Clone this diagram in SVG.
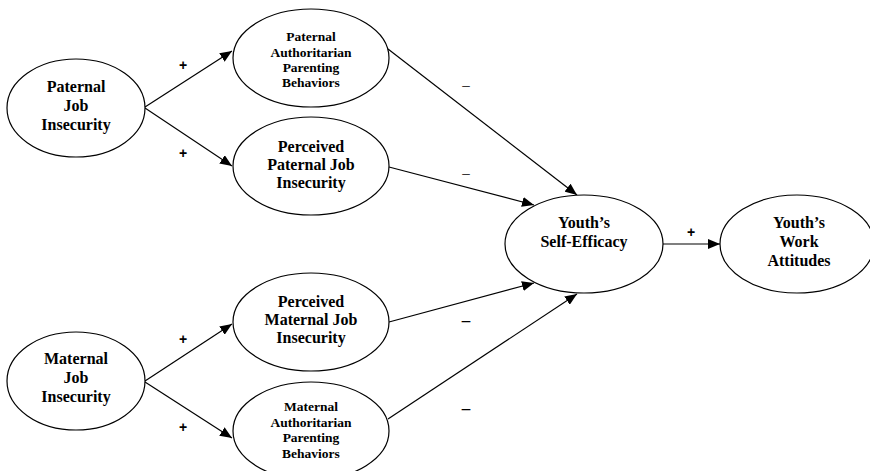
<svg xmlns="http://www.w3.org/2000/svg" width="870" height="471" viewBox="0 0 870 471">
<defs>
<marker id="ah" viewBox="0 0 12 10" refX="12" refY="5" markerWidth="12" markerHeight="10" markerUnits="userSpaceOnUse" orient="auto">
<path d="M0,0 L12,5 L0,10 Z" fill="#000"/>
</marker>
<style>
ellipse{fill:#fff;stroke:#000;stroke-width:1.2}
text{font-family:"Liberation Serif","Times New Roman",serif;font-weight:bold;text-anchor:middle;fill:#000}
.b{font-size:16px}
.s{font-size:13.5px}
.p{font-size:14px;font-family:"Liberation Sans",Arial,sans-serif}
.l{font-size:15px;font-weight:normal}
.lb{font-size:17px}
#edges line{stroke:#000;stroke-width:1.2;marker-end:url(#ah)}
</style>
</defs>
<g id="edges">
<line x1="145" y1="107" x2="232" y2="51"/>
<line x1="145" y1="108" x2="232" y2="166"/>
<line x1="145" y1="381" x2="232" y2="324"/>
<line x1="145" y1="382" x2="232" y2="438"/>
<line x1="388" y1="49" x2="577" y2="195"/>
<line x1="389" y1="167" x2="534" y2="205"/>
<line x1="389" y1="322" x2="534" y2="283"/>
<line x1="388" y1="419" x2="577" y2="294"/>
<line x1="663" y1="244" x2="720" y2="244"/>
</g>
<g id="labels">
<text class="p" x="183" y="70">+</text>
<text class="p" x="183" y="158">+</text>
<text class="p" x="183" y="344">+</text>
<text class="p" x="183" y="432">+</text>
<text class="l" x="466" y="90">–</text>
<text class="l" x="466" y="178">–</text>
<text class="lb" x="466" y="326">–</text>
<text class="lb" x="466" y="414">–</text>
<text class="p" x="691" y="237">+</text>
</g>
<g id="pji">
<ellipse cx="76" cy="108" rx="69" ry="49"/>
<text class="b" x="76" y="92">Paternal</text>
<text class="b" x="76" y="111">Job</text>
<text class="b" x="76" y="130">Insecurity</text>
</g>
<g id="pap">
<ellipse cx="311" cy="58" rx="78" ry="49"/>
<text class="s" x="311" y="41">Paternal</text>
<text class="s" x="311" y="57">Authoritarian</text>
<text class="s" x="311" y="72">Parenting</text>
<text class="s" x="311" y="87">Behaviors</text>
</g>
<g id="ppji">
<ellipse cx="311" cy="166" rx="78" ry="49"/>
<text class="b" x="311" y="152">Perceived</text>
<text class="b" x="311" y="170">Paternal Job</text>
<text class="b" x="311" y="188">Insecurity</text>
</g>
<g id="mji">
<ellipse cx="76" cy="381" rx="69" ry="49"/>
<text class="b" x="76" y="364">Maternal</text>
<text class="b" x="76" y="383">Job</text>
<text class="b" x="76" y="402">Insecurity</text>
</g>
<g id="pmji">
<ellipse cx="311" cy="322" rx="78" ry="49"/>
<text class="b" x="311" y="307">Perceived</text>
<text class="b" x="311" y="325">Maternal Job</text>
<text class="b" x="311" y="343">Insecurity</text>
</g>
<g id="map">
<ellipse cx="311" cy="431" rx="78" ry="49"/>
<text class="s" x="311" y="411">Maternal</text>
<text class="s" x="311" y="427">Authoritarian</text>
<text class="s" x="311" y="442">Parenting</text>
<text class="s" x="311" y="458">Behaviors</text>
</g>
<g id="yse">
<ellipse cx="584" cy="244" rx="79" ry="49"/>
<text class="b" x="584" y="228">Youth’s</text>
<text class="b" x="584" y="247">Self-Efficacy</text>
</g>
<g id="ywa">
<ellipse cx="797" cy="244" rx="77" ry="49"/>
<text class="b" x="799" y="228">Youth’s</text>
<text class="b" x="799" y="247">Work</text>
<text class="b" x="799" y="266">Attitudes</text>
</g>
</svg>
